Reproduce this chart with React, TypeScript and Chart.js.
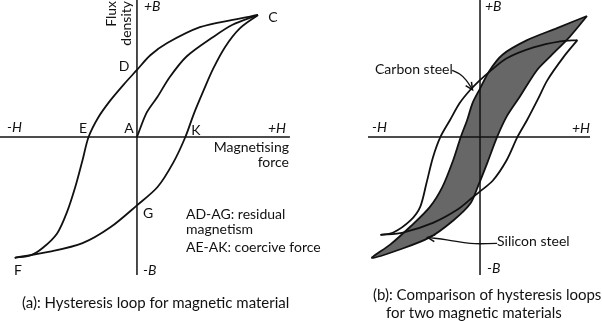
import React, { useEffect, useRef } from "react";
import { Chart, registerables } from "chart.js";
Chart.register(...registerables);

// ---------- Panel (a): hysteresis loop (H, B normalised so C = (1, 1)) ----------
const initialH = [0, 0.08, 0.17, 0.27, 0.41, 0.63, 0.79, 1.0];
const initialB = [0, 0.2, 0.33, 0.49, 0.66, 0.82, 0.92, 1.0];
const descendingH = [1.0, 0.79, 0.52, 0.25, 0.11, 0, -0.11, -0.22, -0.32, -0.4, -0.45, -0.51, -0.58, -0.66, -0.78, -0.88, -1.01];
const descendingB = [1.0, 0.96, 0.9, 0.77, 0.67, 0.55, 0.43, 0.3, 0.16, 0, -0.19, -0.41, -0.62, -0.79, -0.91, -0.97, -0.99];
const ascendingH = [-1.01, -0.72, -0.45, -0.22, 0, 0.17, 0.3, 0.4, 0.47, 0.55, 0.63, 0.73, 0.85, 1.0];
const ascendingB = [-0.99, -0.94, -0.87, -0.74, -0.56, -0.41, -0.21, 0, 0.19, 0.38, 0.56, 0.74, 0.89, 1.0];
const axisA_H = [-1.132, 1.264];
const axisA_B = [1.123, -1.131];

// ---------- Panel (b): two materials ----------
const siliconUpperH = [1.0, 0.72, 0.44, 0.21, 0.09, 0, -0.07, -0.12, -0.18, -0.25, -0.35, -0.47, -0.65, -0.84, -1.01];
const siliconUpperB = [1.0, 0.9, 0.8, 0.68, 0.55, 0.4, 0.28, 0.14, 0, -0.19, -0.41, -0.58, -0.74, -0.89, -1.0];
const siliconLowerH = [-1.01, -0.75, -0.47, -0.25, -0.09, -0.02, 0.07, 0.16, 0.25, 0.37, 0.53, 0.65, 0.84, 1.0];
const siliconLowerB = [-1.0, -0.93, -0.83, -0.69, -0.55, -0.41, -0.21, 0, 0.17, 0.33, 0.55, 0.66, 0.83, 1.0];
const carbonUpperH = [0.91, 0.75, 0.5, 0.25, 0.09, 0, -0.09, -0.19, -0.28, -0.37, -0.44, -0.5, -0.56, -0.65, -0.81, -0.93];
const carbonUpperB = [0.8, 0.79, 0.74, 0.65, 0.54, 0.47, 0.39, 0.28, 0.14, 0, -0.17, -0.38, -0.58, -0.69, -0.79, -0.81];
const carbonLowerH = [-0.93, -0.72, -0.44, -0.21, -0.07, 0, 0.12, 0.25, 0.35, 0.44, 0.54, 0.63, 0.78, 0.91];
const carbonLowerB = [-0.81, -0.79, -0.71, -0.6, -0.5, -0.45, -0.36, -0.19, 0, 0.14, 0.31, 0.47, 0.66, 0.8];
const carbonArrowH = [-0.26, -0.19, -0.13, -0.07];
const carbonArrowB = [0.55, 0.52, 0.47, 0.39];
const siliconArrowH = [0.16, -0.09, -0.31, -0.49];
const siliconArrowB = [-0.88, -0.88, -0.85, -0.83];
const axisB_H = [-1.047, 1.028];
const axisB_B = [1.132, -1.14];

const FONT = "Lato, 'Open Sans', 'DejaVu Sans', sans-serif";

const pts = (xs: number[], ys: number[]) => xs.map((x, i) => ({ x, y: ys[i] }));

type TextItem = {
  t: string;
  x: number;
  y: number;
  size: number;
  italic?: boolean;
  align?: CanvasTextAlign;
  rot?: number;
};

function textPlugin(id: string, items: TextItem[]) {
  return {
    id,
    afterDraw(chart: any) {
      const ctx: CanvasRenderingContext2D = chart.ctx;
      ctx.save();
      ctx.fillStyle = "#111";
      ctx.textBaseline = "middle";
      for (const it of items) {
        ctx.font = `${it.italic ? "italic " : ""}${it.size}px ${FONT}`;
        ctx.textAlign = it.align || "left";
        ctx.save();
        ctx.translate(it.x, it.y);
        if (it.rot) ctx.rotate(it.rot);
        ctx.fillText(it.t, 0, 0);
        ctx.restore();
      }
      ctx.restore();
    },
  };
}

const arrowPlugin = {
  id: "arrowheads",
  afterDatasetsDraw(chart: any) {
    const ctx: CanvasRenderingContext2D = chart.ctx;
    chart.data.datasets.forEach((ds: any, i: number) => {
      if (!ds.arrow) return;
      const meta = chart.getDatasetMeta(i);
      const n = meta.data.length;
      const a = meta.data[n - 2];
      const b = meta.data[n - 1];
      const ang = Math.atan2(b.y - a.y, b.x - a.x);
      const L = 8;
      ctx.save();
      ctx.strokeStyle = "#111";
      ctx.lineWidth = 1.5;
      ctx.beginPath();
      ctx.moveTo(b.x - L * Math.cos(ang - 0.45), b.y - L * Math.sin(ang - 0.45));
      ctx.lineTo(b.x, b.y);
      ctx.lineTo(b.x - L * Math.cos(ang + 0.45), b.y - L * Math.sin(ang + 0.45));
      ctx.stroke();
      ctx.restore();
    });
  },
};

const line = (data: { x: number; y: number }[], width: number, tension = 0.3, extra: any = {}) => ({
  data,
  showLine: true,
  borderColor: "#111",
  borderWidth: width,
  pointRadius: 0,
  pointHoverRadius: 0,
  tension,
  fill: false,
  ...extra,
});

export default function App() {
  const leftRef = useRef<HTMLCanvasElement>(null);
  const rightRef = useRef<HTMLCanvasElement>(null);

  useEffect(() => {
    document.body.style.margin = "0";
    const common = (xmin: number, xmax: number, ymin: number, ymax: number) => ({
      animation: false as const,
      responsive: false,
      maintainAspectRatio: false,
      layout: { padding: 0 },
      events: [] as any[],
      plugins: { legend: { display: false }, tooltip: { enabled: false }, title: { display: false } },
      scales: {
        x: { type: "linear" as const, display: false, min: xmin, max: xmax },
        y: { type: "linear" as const, display: false, min: ymin, max: ymax },
      },
    });

    const leftTexts: TextItem[] = [
      { t: "Flux", x: 111, y: 1, size: 14, align: "right", rot: -Math.PI / 2 },
      { t: "density", x: 126, y: 1, size: 14, align: "right", rot: -Math.PI / 2 },
      { t: "+B", x: 144, y: 6, size: 14, italic: true },
      { t: "C", x: 273, y: 17, size: 14, align: "center" },
      { t: "D", x: 124, y: 66, size: 14, align: "center" },
      { t: "-H", x: 7, y: 127, size: 14, italic: true },
      { t: "E", x: 83, y: 128, size: 14, align: "center" },
      { t: "A", x: 129, y: 128, size: 14, align: "center" },
      { t: "K", x: 196, y: 130, size: 14, align: "center" },
      { t: "+H", x: 268, y: 128, size: 14, italic: true },
      { t: "Magnetising", x: 289, y: 147, size: 14, align: "right" },
      { t: "force", x: 289, y: 162, size: 14, align: "right" },
      { t: "G", x: 148, y: 213, size: 14, align: "center" },
      { t: "F", x: 18, y: 270, size: 14, align: "center" },
      { t: "-B", x: 143, y: 270, size: 14, italic: true },
      { t: "AD-AG: residual", x: 186, y: 214, size: 14 },
      { t: "magnetism", x: 186, y: 229, size: 14 },
      { t: "AE-AK: coercive force", x: 186, y: 247, size: 14 },
      { t: "(a): Hysteresis loop for magnetic material", x: 22, y: 303, size: 15 },
    ];

    const rightTexts: TextItem[] = [
      { t: "+B", x: 184, y: 6, size: 14, italic: true },
      { t: "-H", x: 71, y: 127, size: 14, italic: true },
      { t: "+H", x: 271, y: 128, size: 14, italic: true },
      { t: "-B", x: 186, y: 268, size: 14, italic: true },
      { t: "Carbon steel", x: 74, y: 69, size: 14 },
      { t: "Silicon steel", x: 196, y: 241, size: 14 },
      { t: "(b): Comparison of hysteresis loops", x: 72, y: 295, size: 15 },
      { t: "for two magnetic materials", x: 85, y: 313, size: 15 },
    ];

    const charts: Chart[] = [];

    if (leftRef.current) {
      charts.push(
        new Chart(leftRef.current, {
          type: "scatter",
          data: {
            datasets: [
              line(pts([0, 0], axisA_B), 1.5, 0),
              line(pts(axisA_H, [0, 0]), 1.5, 0),
              line(pts(initialH, initialB), 1.8),
              line(pts(descendingH, descendingB), 1.8),
              line(pts(ascendingH, ascendingB), 1.8),
            ] as any,
          },
          options: common(-1.132, 1.678, -1.508, 1.123) as any,
          plugins: [textPlugin("textsA", leftTexts)],
        })
      );
    }

    if (rightRef.current) {
      const siliconLoop = [
        ...pts(siliconUpperH, siliconUpperB),
        ...pts(siliconLowerH, siliconLowerB).slice(1),
      ];
      charts.push(
        new Chart(rightRef.current, {
          type: "scatter",
          data: {
            datasets: [
              line(pts([0, 0], axisB_B), 1.5, 0),
              line(pts(axisB_H, [0, 0]), 1.5, 0),
              line(pts(carbonArrowH, carbonArrowB), 1.3, 0.4, { arrow: true }),
              line(pts(siliconArrowH, siliconArrowB), 1.3, 0.4, { arrow: true }),
              line(pts(carbonUpperH, carbonUpperB), 1.8),
              line(pts(carbonLowerH, carbonLowerB), 1.8),
              line(siliconLoop, 1.8, 0.3, { fill: "shape", backgroundColor: "#676767" }),
            ] as any,
          },
          options: common(-1.673, 1.14, -1.521, 1.132) as any,
          plugins: [arrowPlugin, textPlugin("textsB", rightTexts)],
        })
      );
    }

    return () => charts.forEach((c) => c.destroy());
  }, []);

  return (
    <div style={{ position: "relative", width: 602, height: 321, background: "#fff" }}>
      <canvas ref={leftRef} width={340} height={321} style={{ position: "absolute", left: 0, top: 0 }} />
      <canvas ref={rightRef} width={301} height={321} style={{ position: "absolute", left: 301, top: 0 }} />
    </div>
  );
}
